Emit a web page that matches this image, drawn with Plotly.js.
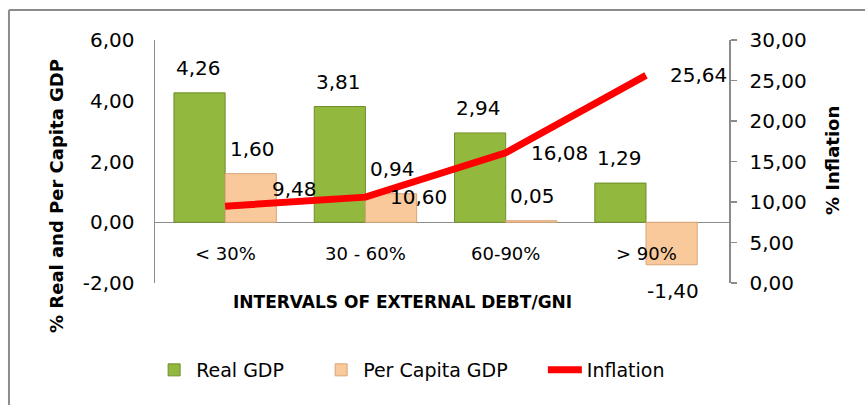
<!DOCTYPE html>
<html>
<head>
<meta charset="utf-8">
<script src="https://cdn.plot.ly/plotly-3.0.1.min.js"></script>
<style>html,body{margin:0;padding:0;background:#fff;}#chart{width:865px;height:405px;}</style>
</head>
<body>
<div id="chart"></div>
<script>
// ---- data ----
const categories = ['< 30%', '30 - 60%', '60-90%', '> 90%'];
const realGDP = [4.26, 3.81, 2.94, 1.29];
const perCapitaGDP = [1.60, 0.94, 0.05, -1.40];
const inflation = [9.48, 10.60, 16.08, 25.64];
const leftTicks = [-2, 0, 2, 4, 6];
const rightTicks = [0, 5, 10, 15, 20, 25, 30];
const seriesNames = ['Real GDP', 'Per Capita GDP', 'Inflation'];

// ---- style ----
const FONT = '"DejaVu Sans", Tahoma, sans-serif';
const fmt = v => v.toFixed(2).replace('.', ',');
const inflLabelShift = [[45, 17], [23, 0], [23, 0], [22, 0]];
const pad = '\u00a0\u00a0\u00a0\u00a0\u00a0';

const traces = [
  {
    type: 'bar', name: seriesNames[0] + pad, x: categories, y: realGDP,
    marker: {color: '#92b83e', line: {color: '#6f8f2a', width: 1}},
    yaxis: 'y', hoverinfo: 'skip'
  },
  {
    type: 'bar', name: seriesNames[1] + pad, x: categories, y: perCapitaGDP,
    marker: {color: '#f9c99c', line: {color: '#d9a477', width: 1}},
    yaxis: 'y', hoverinfo: 'skip'
  },
  {
    type: 'scatter', mode: 'lines', name: seriesNames[2], x: categories, y: inflation,
    line: {color: '#ff0000', width: 7},
    yaxis: 'y2', hoverinfo: 'skip'
  }
];

const annotations = [];
categories.forEach((c, i) => {
  annotations.push({x: c, y: realGDP[i], xref: 'x', yref: 'y', text: fmt(realGDP[i]),
    showarrow: false, xshift: -27, yshift: realGDP[i] >= 0 ? 25 : -26,
    font: {family: FONT, size: 20, color: '#000'}});
  annotations.push({x: c, y: perCapitaGDP[i], xref: 'x', yref: 'y', text: fmt(perCapitaGDP[i]),
    showarrow: false, xshift: 27, yshift: perCapitaGDP[i] >= 0 ? 25 : -26,
    font: {family: FONT, size: 20, color: '#000'}});
  annotations.push({x: c, y: inflation[i], xref: 'x', yref: 'y2', text: fmt(inflation[i]),
    showarrow: false, xanchor: 'left', yanchor: 'middle',
    xshift: inflLabelShift[i][0], yshift: inflLabelShift[i][1],
    font: {family: FONT, size: 20, color: '#000'}});
  annotations.push({x: c, y: 0, xref: 'x', yref: 'y', text: c,
    showarrow: false, yshift: -31,
    font: {family: FONT, size: 18, color: '#000'}});
});
annotations.push({xref: 'paper', yref: 'paper', x: -0.1725, y: 0.358, textangle: -90,
  xanchor: 'center', yanchor: 'middle',
  text: '<b>% Real and Per Capita GDP</b>', showarrow: false,
  font: {family: FONT, size: 18, color: '#000'}});
annotations.push({xref: 'paper', yref: 'paper', x: 1.1794, y: 0.506, textangle: -90,
  xanchor: 'center', yanchor: 'middle',
  text: '<b>% Inflation</b>', showarrow: false,
  font: {family: FONT, size: 18, color: '#000'}});
annotations.push({xref: 'paper', yref: 'paper', x: 0.432, y: -0.078,
  xanchor: 'center', yanchor: 'middle',
  text: '<b>INTERVALS OF EXTERNAL DEBT/GNI</b>', showarrow: false,
  font: {family: FONT, size: 17, color: '#000'}});

const layout = {
  width: 865, height: 405,
  margin: {l: 155, r: 136, t: 40, b: 122, autoexpand: false},
  paper_bgcolor: '#fff', plot_bgcolor: '#fff',
  separators: ',.',
  font: {family: FONT, size: 19, color: '#000'},
  barmode: 'group', bargap: 0.27, bargroupgap: 0,
  showlegend: true,
  legend: {orientation: 'h', x: -0.005, xanchor: 'left', y: -0.358, yanchor: 'middle',
    font: {family: FONT, size: 19, color: '#000'}, itemwidth: 34, traceorder: 'normal'},
  xaxis: {type: 'category', showticklabels: false, showgrid: false, zeroline: false,
    showline: false, ticks: '', fixedrange: true, automargin: false},
  yaxis: {range: [-2, 6], tickvals: leftTicks, ticktext: leftTicks.map(fmt),
    showgrid: false, zeroline: true, zerolinecolor: '#8c8c8c', zerolinewidth: 1.5,
    showline: true, linecolor: '#8c8c8c', linewidth: 1.5, ticks: '', automargin: false,
    ticklabelstandoff: 15, tickfont: {family: FONT, size: 20, color: '#000'}},
  yaxis2: {range: [0, 30], tickvals: rightTicks, ticktext: rightTicks.map(fmt),
    overlaying: 'y', side: 'right', showgrid: false, zeroline: false, automargin: false,
    showline: true, linecolor: '#8c8c8c', linewidth: 1.5,
    ticks: 'outside', ticklen: 6, tickcolor: '#8c8c8c', tickwidth: 1.5,
    ticklabelstandoff: 9, tickfont: {family: FONT, size: 20, color: '#000'}},
  annotations: annotations,
  shapes: [
    {type: 'line', xref: 'paper', yref: 'paper', x0: -0.2544, x1: 1.3, y0: 1.1235, y1: 1.1235,
      line: {color: '#8c8c8c', width: 2}},
    {type: 'line', xref: 'paper', yref: 'paper', x0: -0.2544, x1: -0.2544, y0: 1.1235, y1: -0.6,
      line: {color: '#8c8c8c', width: 2}}
  ]
};

Plotly.newPlot('chart', traces, layout, {displayModeBar: false, staticPlot: true});
</script>
</body>
</html>
